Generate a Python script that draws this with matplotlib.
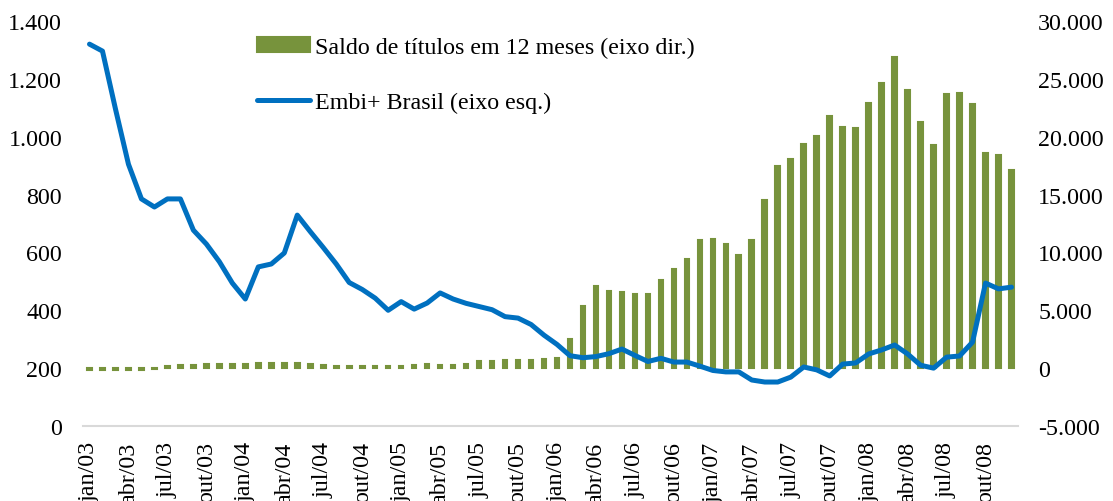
import matplotlib
matplotlib.use("Agg")
import matplotlib.pyplot as plt
from matplotlib.ticker import FuncFormatter

plt.rcParams['font.family'] = ['Liberation Serif', 'DejaVu Serif']

months = ['jan', 'fev', 'mar', 'abr', 'mai', 'jun', 'jul', 'ago', 'set', 'out', 'nov', 'dez']
years = ['03', '04', '05', '06', '07', '08']
categories = [f"{m}/{y}" for y in years for m in months]

embi = [1320, 1296, 1096, 905, 785, 757, 785, 785, 677, 629, 568, 494,
        439, 550, 560, 598, 729, 672, 617, 560, 496, 472, 442, 400,
        430, 404, 425, 460, 439, 424, 413, 402, 378, 373, 351, 314,
        282, 243, 236, 240, 250, 266, 244, 223, 234, 221, 221, 207,
        192, 187, 187, 159, 152, 152, 169, 204, 194, 173, 214, 218,
        249, 263, 280, 249, 210, 200, 238, 242, 290, 494, 474, 480]

saldo = [-150, -150, -150, -150, -150, -50, 150, 250, 300, 350, 400, 380,
         400, 450, 450, 450, 430, 400, 270, 210, 210, 150, 180, 180,
         180, 270, 380, 300, 270, 380, 580, 610, 690, 690, 720, 750,
         840, 2550, 5400, 7100, 6700, 6600, 6400, 6400, 7650, 8550, 9450, 11100,
         11150, 10750, 9750, 11100, 14550, 17500, 18050, 19350, 20100, 21800, 20800, 20750,
         22900, 24600, 26900, 24050, 21250, 19250, 23650, 23800, 22850, 18600, 18400, 17150]

tick_step = 3
label_saldo = 'Saldo de títulos em 12 meses (eixo dir.)'
label_embi = 'Embi+ Brasil (eixo esq.)'

green = '#77933C'
blue = '#0070C0'
fs = 17.3

fig = plt.figure(figsize=(11.13, 5.02), dpi=100)
ax = fig.add_axes([83/1113, 1-427/502, (1018-83)/1113, (427-22)/502])
ax2 = ax.twinx()

x = list(range(len(categories)))
bars = ax2.bar(x, saldo, width=0.355, color=green, edgecolor=green, linewidth=1.5,
               label=label_saldo)
line, = ax.plot(x, embi, color=blue, linewidth=3.6, solid_joinstyle='round',
                solid_capstyle='round', label=label_embi)

ax.set_zorder(ax2.get_zorder() + 1)
ax.patch.set_visible(False)

ax.set_xlim(-0.5, len(categories) - 0.5)
ax.set_ylim(0, 1400)
ax2.set_ylim(-5000, 30000)
ax.set_yticks(range(0, 1401, 200))
ax2.set_yticks(range(-5000, 30001, 5000))

fmt = FuncFormatter(lambda v, p: f"{int(v):,}".replace(',', '.'))
ax.yaxis.set_major_formatter(fmt)
ax2.yaxis.set_major_formatter(fmt)

ax.set_xticks(x[::tick_step])
ax.set_xticklabels(categories[::tick_step], rotation=90, ha='center', va='top')

for a in (ax, ax2):
    for s in ('top', 'left', 'right', 'bottom'):
        a.spines[s].set_visible(False)
    a.tick_params(length=0, labelsize=fs)
ax.spines['bottom'].set_visible(True)
ax.spines['bottom'].set_color('#D9D9D9')
ax.spines['bottom'].set_linewidth(1.5)
ax.tick_params(axis='y', pad=15)
ax2.tick_params(axis='y', pad=14.5)
ax.tick_params(axis='x', pad=11)

leg = fig.legend([bars, line], [label_saldo, label_embi], loc='upper left',
                 bbox_to_anchor=(257/1113, 1-38/502), frameon=False, fontsize=fs,
                 handlelength=2.2, handleheight=0.55, handletextpad=0.2,
                 labelspacing=1.4, borderpad=0, borderaxespad=0)

fig.savefig('out.png', dpi=100)
